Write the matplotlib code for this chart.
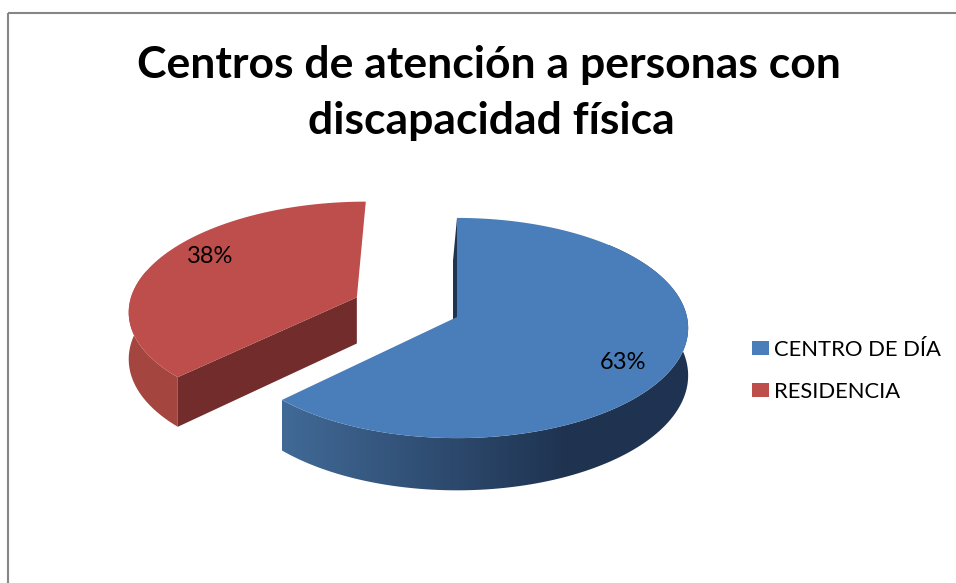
import math
import numpy as np
import matplotlib
matplotlib.use("Agg")
import matplotlib.pyplot as plt
from matplotlib.patches import Polygon, Rectangle, Patch
from matplotlib.colors import LinearSegmentedColormap

# Datos del grafico
categorias = ["CENTRO DE DÍA", "RESIDENCIA"]
valores = [5, 3]
explosion = [0.0, 0.48]
colores_tapa = ["#4A7EBA", "#BD4E4B"]
titulo = ["Centros de atención a personas con", "discapacidad física"]

# Geometria de la tarta 3D (en pixeles)
CX, CY = 457, 317      # centro de la tarta
A, B = 230, 109        # semiejes de la elipse
P = 0.1                # perspectiva (fondo mas pequeño)
H = 47                 # grosor

FUENTE = ["Lato", "DejaVu Sans"]


def proyecta(ou, ov, th, r, z=0.0, dx=0.0):
    # th en grados, sentido horario desde las 12
    t = math.radians(th)
    u = ou + r * math.sin(t)
    v = ov + r * math.cos(t)
    s = 1.0 / (1.0 + P * v)
    return CX + A * u * s + dx * z, CY - B * v * s + H * z * s


fig = plt.figure(figsize=(9.56, 5.83), dpi=100)
ax = fig.add_axes([0, 0, 1, 1])
ax.set_xlim(0, 956)
ax.set_ylim(583, 0)
ax.axis("off")

# marco del grafico
ax.add_patch(Rectangle((8, 12.5), 1000, 600, fill=False, edgecolor="#868686", lw=1.5))

total = sum(valores)
inicio = [0.0]
for v in valores[:-1]:
    inicio.append(inicio[-1] + 360.0 * v / total)
fin = [inicio[i] + 360.0 * valores[i] / total for i in range(len(valores))]

offs = []
for i in range(len(valores)):
    mid = math.radians((inicio[i] + fin[i]) / 2)
    offs.append((explosion[i] * math.sin(mid), explosion[i] * math.cos(mid)))

# --- RESIDENCIA (separada) ---
ou, ov = offs[1]
a0, a1 = inicio[1], fin[1]
# lateral exterior visible
ths = np.linspace(a0, 285, 40)
top = [proyecta(ou, ov, t, 1) for t in ths]
bot = [proyecta(ou, ov, t, 1, 1) for t in ths[::-1]]
ax.add_patch(Polygon(top + bot, closed=True, fc="#A4463F", ec="none"))
# cara radial
cara = [proyecta(ou, ov, 0, 0), proyecta(ou, ov, a0, 1),
        proyecta(ou, ov, a0, 1, 1), proyecta(ou, ov, 0, 0, 1)]
ax.add_patch(Polygon(cara, closed=True, fc="#722C2C", ec="none"))
# tapa
ths = np.linspace(a0, a1, 80)
tapa = [proyecta(ou, ov, 0, 0)] + [proyecta(ou, ov, t, 1) for t in ths]
ax.add_patch(Polygon(tapa, closed=True, fc=colores_tapa[1], ec="none"))

# --- CENTRO DE DIA ---
ou, ov = offs[0]
a0, a1 = inicio[0], fin[0]
# cara radial de las 12 (apenas visible)
cara = [proyecta(ou, ov, 0, 0), proyecta(ou, ov, a0, 1),
        proyecta(ou, ov, a0, 1, 1, dx=-4), proyecta(ou, ov, 0, 0, 1, dx=-4)]
ax.add_patch(Polygon(cara, closed=True, fc="#1F3451", ec="none"))
# lateral exterior con degradado horizontal
ths = np.linspace(45, a1, 120)
top = [proyecta(ou, ov, t, 1) for t in ths]
bot = [proyecta(ou, ov, t, 1, 1) for t in ths[::-1]]
lateral = Polygon(top + bot, closed=True, fc="none", ec="none")
ax.add_patch(lateral)
xs = [p[0] for p in top + bot]
ys = [p[1] for p in top + bot]
x_izq, x_der = min(xs), max(xs)
cmap = LinearSegmentedColormap.from_list(
    "lado", [(0.0, "#416A97"), (0.7, "#1F3350"), (1.0, "#1F3452")])
grad = np.linspace(0, 1, 256).reshape(1, -1)
img = ax.imshow(grad, cmap=cmap, aspect="auto", interpolation="bicubic",
                extent=(x_izq, x_der, max(ys) + 1, min(ys) - 1))
img.set_clip_path(lateral)
ax.set_xlim(0, 956)
ax.set_ylim(583, 0)
# tapa
ths = np.linspace(a0, a1, 120)
tapa = [proyecta(ou, ov, 0, 0)] + [proyecta(ou, ov, t, 1) for t in ths]
ax.add_patch(Polygon(tapa, closed=True, fc=colores_tapa[0], ec="none"))

# etiquetas de porcentaje
for i in range(len(valores)):
    pct = int(math.floor(100.0 * valores[i] / total + 0.5))
    mid = math.radians((inicio[i] + fin[i]) / 2)
    u = offs[i][0] + 0.75 * math.sin(mid)
    v = offs[i][1] + 0.75 * math.cos(mid) * 1.4
    s = 1.0 / (1.0 + P * v)
    ax.text(CX + A * u * s, CY - B * v * s, f"{pct}%", ha="center", va="center",
            fontsize=17, family=FUENTE, color="#000000")

# titulo (dos lineas)
ax.text(489, 78, titulo[0], ha="center", va="baseline",
        fontsize=32, fontweight="bold", family=FUENTE)
ax.text(491, 134, titulo[1], ha="center", va="baseline",
        fontsize=32, fontweight="bold", family=FUENTE)

# leyenda
manejadores = [Patch(facecolor=c, edgecolor="none") for c in colores_tapa]
fig.legend(manejadores, categorias, loc="center left",
           bbox_to_anchor=(752 / 956, 1 - 371 / 583), frameon=False,
           prop={"family": FUENTE, "size": 15.8},
           handlelength=0.76, handleheight=0.63, handletextpad=0.25,
           labelspacing=1.0, borderpad=0, borderaxespad=0)

fig.savefig("out.png", dpi=100)
